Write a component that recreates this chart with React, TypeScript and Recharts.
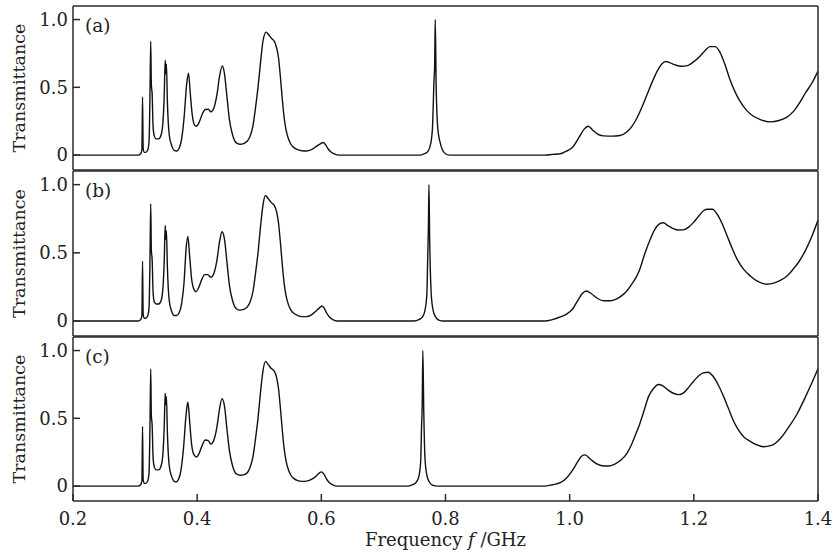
import React from "react";
import { LineChart, Line, XAxis, YAxis, Label } from "recharts";

type Pt = [number, number];

const xTicks = [0.2, 0.4, 0.6, 0.8, 1.0, 1.2, 1.4];
const yTicks = [0, 0.5, 1.0];
const yDomain: [number, number] = [-0.11, 1.1];

// panel (a) – frequency (GHz), transmittance
const lowA: Pt[] = [
  [0.2, 0], [0.305, 0], [0.309, 0.01], [0.311, 0.04], [0.312, 0.43], [0.313, 0.05], [0.315, 0.02],
  [0.317, 0.02], [0.3205, 0.04], [0.3225, 0.1], [0.324, 0.45], [0.3252, 0.84], [0.3262, 0.52],
  [0.3275, 0.45], [0.329, 0.21], [0.331, 0.14], [0.334, 0.12], [0.338, 0.12], [0.342, 0.15],
  [0.345, 0.25], [0.347, 0.45], [0.3485, 0.7], [0.3495, 0.6], [0.3505, 0.67], [0.352, 0.4],
  [0.355, 0.15], [0.359, 0.07], [0.363, 0.035], [0.367, 0.03], [0.371, 0.05], [0.375, 0.12],
  [0.379, 0.28], [0.383, 0.52], [0.386, 0.605], [0.389, 0.45], [0.392, 0.3], [0.396, 0.22],
  [0.399, 0.213], [0.403, 0.24], [0.408, 0.3], [0.413, 0.336], [0.418, 0.338], [0.422, 0.32],
  [0.427, 0.35], [0.432, 0.45], [0.436, 0.58], [0.4405, 0.657], [0.444, 0.6], [0.448, 0.43],
  [0.452, 0.26], [0.457, 0.15], [0.463, 0.09], [0.469, 0.08], [0.475, 0.085], [0.48, 0.1],
  [0.485, 0.135], [0.49, 0.22], [0.494, 0.35], [0.498, 0.5], [0.502, 0.68], [0.506, 0.84],
  [0.511, 0.907], [0.515, 0.89], [0.52, 0.86], [0.525, 0.833], [0.528, 0.79], [0.531, 0.72],
  [0.534, 0.58], [0.537, 0.42], [0.54, 0.28], [0.543, 0.19], [0.547, 0.12], [0.551, 0.08],
  [0.556, 0.055], [0.562, 0.04], [0.569, 0.032], [0.576, 0.03], [0.584, 0.04], [0.5925, 0.066],
  [0.599, 0.085], [0.603, 0.093], [0.607, 0.075], [0.611, 0.045], [0.615, 0.025], [0.62, 0.01],
  [0.627, 0],
];
const peakA: Pt[] = [
  [0.76, 0], [0.766, 0.01], [0.772, 0.03], [0.776, 0.08], [0.779, 0.2], [0.7815, 0.55],
  [0.7825, 0.65], [0.7835, 1.0], [0.785, 0.5], [0.7875, 0.2], [0.791, 0.1], [0.795, 0.04],
  [0.8, 0.01], [0.806, 0],
];
const highA: Pt[] = [
  [0.96, 0], [0.972, 0.005], [0.985, 0.01], [0.995, 0.03], [1.005, 0.06], [1.015, 0.13],
  [1.023, 0.19], [1.03, 0.213], [1.038, 0.18], [1.047, 0.15], [1.055, 0.142], [1.068, 0.14],
  [1.081, 0.145], [1.092, 0.17], [1.1, 0.21], [1.108, 0.27], [1.117, 0.36], [1.125, 0.45],
  [1.133, 0.54], [1.141, 0.62], [1.148, 0.67], [1.155, 0.69], [1.162, 0.68], [1.17, 0.665],
  [1.18, 0.655], [1.19, 0.66], [1.2, 0.69], [1.21, 0.73], [1.218, 0.77], [1.226, 0.8],
  [1.234, 0.8], [1.242, 0.76], [1.25, 0.67], [1.258, 0.56], [1.266, 0.47], [1.274, 0.4],
  [1.285, 0.33], [1.295, 0.29], [1.308, 0.26], [1.323, 0.245], [1.337, 0.255], [1.35, 0.28],
  [1.362, 0.33], [1.371, 0.39], [1.38, 0.46], [1.39, 0.53], [1.4, 0.62],
];

// panel (b)
const lowB: Pt[] = [
  [0.2, 0], [0.305, 0], [0.309, 0.01], [0.311, 0.04], [0.312, 0.44], [0.313, 0.05], [0.315, 0.02],
  [0.317, 0.02], [0.3205, 0.04], [0.3225, 0.1], [0.324, 0.45], [0.3252, 0.86], [0.3262, 0.52],
  [0.3275, 0.45], [0.329, 0.21], [0.331, 0.14], [0.334, 0.125], [0.338, 0.125], [0.342, 0.15],
  [0.345, 0.25], [0.347, 0.45], [0.3485, 0.7], [0.3495, 0.6], [0.3505, 0.66], [0.352, 0.4],
  [0.355, 0.15], [0.359, 0.07], [0.363, 0.04], [0.367, 0.04], [0.371, 0.06], [0.375, 0.13],
  [0.379, 0.29], [0.382, 0.52], [0.385, 0.62], [0.388, 0.47], [0.391, 0.31], [0.395, 0.23],
  [0.398, 0.215], [0.402, 0.24], [0.407, 0.3], [0.412, 0.34], [0.417, 0.34], [0.422, 0.32],
  [0.427, 0.35], [0.432, 0.45], [0.436, 0.58], [0.44, 0.655], [0.444, 0.6], [0.448, 0.43],
  [0.452, 0.26], [0.457, 0.15], [0.463, 0.09], [0.469, 0.08], [0.475, 0.085], [0.48, 0.1],
  [0.485, 0.135], [0.49, 0.22], [0.494, 0.35], [0.498, 0.5], [0.502, 0.69], [0.506, 0.85],
  [0.51, 0.92], [0.514, 0.9], [0.519, 0.87], [0.524, 0.85], [0.528, 0.8], [0.531, 0.72],
  [0.534, 0.58], [0.537, 0.42], [0.54, 0.28], [0.543, 0.19], [0.547, 0.12], [0.551, 0.08],
  [0.556, 0.055], [0.562, 0.04], [0.569, 0.032], [0.576, 0.032], [0.584, 0.045], [0.592, 0.075],
  [0.598, 0.1], [0.601, 0.11], [0.605, 0.09], [0.609, 0.055], [0.613, 0.03], [0.618, 0.012],
  [0.625, 0],
];
const peakB: Pt[] = [
  [0.75, 0], [0.757, 0.01], [0.763, 0.03], [0.767, 0.08], [0.77, 0.2], [0.7715, 0.5],
  [0.7725, 0.7], [0.7733, 1.0], [0.7745, 0.6], [0.777, 0.2], [0.78, 0.08], [0.784, 0.03],
  [0.79, 0.005], [0.796, 0],
];
const highB: Pt[] = [
  [0.96, 0], [0.972, 0.01], [0.985, 0.03], [0.995, 0.05], [1.005, 0.09], [1.013, 0.15],
  [1.02, 0.2], [1.027, 0.22], [1.035, 0.2], [1.045, 0.165], [1.055, 0.148], [1.065, 0.148],
  [1.075, 0.16], [1.085, 0.19], [1.092, 0.22], [1.1, 0.27], [1.107, 0.32], [1.113, 0.38],
  [1.12, 0.48], [1.129, 0.59], [1.137, 0.67], [1.144, 0.71], [1.151, 0.72], [1.158, 0.7],
  [1.166, 0.68], [1.175, 0.667], [1.183, 0.668], [1.192, 0.69], [1.2, 0.725], [1.208, 0.77],
  [1.216, 0.81], [1.222, 0.82], [1.23, 0.82], [1.238, 0.78], [1.246, 0.71], [1.254, 0.62],
  [1.262, 0.53], [1.27, 0.45], [1.28, 0.38], [1.291, 0.33], [1.303, 0.29], [1.317, 0.27],
  [1.33, 0.28], [1.34, 0.3], [1.35, 0.33], [1.36, 0.38], [1.37, 0.44], [1.38, 0.52],
  [1.39, 0.62], [1.4, 0.74],
];

// panel (c)
const lowC: Pt[] = [
  [0.2, 0], [0.305, 0], [0.309, 0.01], [0.311, 0.04], [0.312, 0.44], [0.313, 0.05], [0.315, 0.02],
  [0.317, 0.02], [0.3205, 0.04], [0.3225, 0.1], [0.324, 0.45], [0.3252, 0.865], [0.3262, 0.52],
  [0.3275, 0.45], [0.329, 0.21], [0.331, 0.14], [0.334, 0.12], [0.338, 0.12], [0.342, 0.15],
  [0.345, 0.25], [0.347, 0.45], [0.3485, 0.686], [0.3495, 0.6], [0.3505, 0.66], [0.352, 0.4],
  [0.355, 0.15], [0.359, 0.07], [0.363, 0.035], [0.366, 0.03], [0.37, 0.05], [0.374, 0.12],
  [0.378, 0.28], [0.382, 0.52], [0.385, 0.62], [0.388, 0.47], [0.391, 0.31], [0.395, 0.23],
  [0.399, 0.215], [0.403, 0.24], [0.408, 0.3], [0.413, 0.34], [0.418, 0.335], [0.422, 0.31],
  [0.427, 0.34], [0.432, 0.44], [0.436, 0.57], [0.44, 0.645], [0.444, 0.59], [0.448, 0.42],
  [0.452, 0.26], [0.457, 0.15], [0.463, 0.09], [0.47, 0.08], [0.476, 0.085], [0.481, 0.1],
  [0.485, 0.135], [0.49, 0.22], [0.494, 0.35], [0.498, 0.5], [0.502, 0.69], [0.506, 0.85],
  [0.51, 0.92], [0.514, 0.9], [0.519, 0.87], [0.524, 0.85], [0.528, 0.8], [0.531, 0.72],
  [0.534, 0.58], [0.537, 0.42], [0.54, 0.28], [0.543, 0.19], [0.547, 0.12], [0.551, 0.08],
  [0.556, 0.055], [0.562, 0.04], [0.569, 0.035], [0.576, 0.037], [0.584, 0.05], [0.592, 0.075],
  [0.597, 0.098], [0.6, 0.105], [0.604, 0.09], [0.608, 0.055], [0.612, 0.03], [0.617, 0.012],
  [0.624, 0],
];
const peakC: Pt[] = [
  [0.74, 0], [0.747, 0.01], [0.753, 0.03], [0.757, 0.07], [0.76, 0.18], [0.7615, 0.45],
  [0.7625, 0.6], [0.7635, 1.0], [0.765, 0.55], [0.767, 0.2], [0.77, 0.08], [0.774, 0.03],
  [0.78, 0.005], [0.786, 0],
];
const highC: Pt[] = [
  [0.96, 0], [0.972, 0.01], [0.985, 0.025], [0.995, 0.06], [1.005, 0.12], [1.013, 0.18],
  [1.019, 0.22], [1.025, 0.23], [1.033, 0.2], [1.043, 0.165], [1.052, 0.15], [1.062, 0.148],
  [1.072, 0.16], [1.082, 0.19], [1.092, 0.24], [1.1, 0.31], [1.107, 0.39], [1.113, 0.46],
  [1.12, 0.56], [1.127, 0.66], [1.135, 0.72], [1.143, 0.75], [1.15, 0.74], [1.158, 0.71],
  [1.167, 0.685], [1.175, 0.675], [1.184, 0.69], [1.192, 0.73], [1.199, 0.77], [1.207, 0.81],
  [1.215, 0.835], [1.223, 0.84], [1.231, 0.81], [1.24, 0.74], [1.248, 0.66], [1.256, 0.57],
  [1.263, 0.49], [1.271, 0.42], [1.281, 0.36], [1.291, 0.33], [1.301, 0.305], [1.312, 0.29],
  [1.325, 0.3], [1.339, 0.35], [1.352, 0.43], [1.366, 0.53], [1.38, 0.66], [1.39, 0.76],
  [1.4, 0.865],
];

const toRows = (...parts: Pt[][]) => parts.flat().map(([f, t]) => ({ f, t }));

const FONT = "DejaVu Serif";
const frame = { stroke: "#2a2a2a", strokeWidth: 1.5 };
const tickText = { fontSize: 18, fill: "#222", fontFamily: FONT };

type PanelProps = {
  rows: { f: number; t: number }[];
  tag: string;
  top: number;
  height: number;
  marginTop: number;
  bottomTicks?: boolean;
};

function Panel({ rows, tag, top, height, marginTop, bottomTicks }: PanelProps) {
  const plotTop = marginTop + 1;
  const plotH = height - plotTop - (bottomTicks ? 52 : 1);
  return (
    <div style={{ position: "absolute", left: 0, top, width: 836, height }}>
      <LineChart width={836} height={height} data={rows} margin={{ top: marginTop, right: 0, bottom: 0, left: 13 }}>
        <XAxis
          xAxisId="top"
          orientation="top"
          type="number"
          dataKey="f"
          domain={[0.2, 1.4]}
          ticks={xTicks}
          allowDataOverflow
          height={1}
          tick={false}
          tickLine={bottomTicks ? frame : false}
          tickSize={-7}
          axisLine={frame}
        />
        <XAxis
          type="number"
          dataKey="f"
          domain={[0.2, 1.4]}
          ticks={xTicks}
          allowDataOverflow
          height={bottomTicks ? 52 : 1}
          tick={bottomTicks ? tickText : false}
          tickLine={bottomTicks ? frame : false}
          tickSize={-7}
          tickMargin={18}
          tickFormatter={(v: number) => v.toFixed(1)}
          axisLine={frame}
        >
          {bottomTicks && (
            <Label
              content={() => (
                <text x={445.5} y={210} textAnchor="middle" fontFamily={FONT} fontSize={18} fill="#222">
                  Frequency <tspan fontStyle="italic">f</tspan> /GHz
                </text>
              )}
            />
          )}
        </XAxis>
        <YAxis
          yAxisId="l"
          type="number"
          domain={yDomain}
          ticks={yTicks}
          allowDataOverflow
          width={60}
          tick={tickText}
          tickSize={-7}
          tickMargin={12}
          tickLine={frame}
          axisLine={frame}
          tickFormatter={(v: number) => (v === 0 ? "0" : v.toFixed(1))}
        >
          <Label
            content={() => (
              <text
                x={25}
                y={plotTop + plotH / 2}
                transform={`rotate(-90 25 ${plotTop + plotH / 2})`}
                textAnchor="middle"
                fontFamily={FONT}
                fontSize={17.5}
                fill="#222"
              >
                Transmittance
              </text>
            )}
          />
          <Label
            content={() => (
              <text x={85} y={plotTop + 26} fontFamily={FONT} fontSize={18.5} fill="#222">
                {tag}
              </text>
            )}
          />
        </YAxis>
        <YAxis
          yAxisId="r"
          orientation="right"
          type="number"
          domain={yDomain}
          ticks={yTicks}
          allowDataOverflow
          width={18}
          tick={false}
          tickSize={-7}
          tickLine={frame}
          axisLine={frame}
        />
        <Line
          yAxisId="l"
          dataKey="t"
          type="monotone"
          dot={false}
          stroke="#111"
          strokeWidth={1.4}
          isAnimationActive={false}
        />
      </LineChart>
    </div>
  );
}

export default function App() {
  return (
    <div style={{ position: "absolute", left: 0, top: 0, width: 836, height: 553, background: "#fff" }}>
      <Panel rows={toRows(lowA, peakA, highA)} tag="(a)" top={0} height={171} marginTop={5} />
      <Panel rows={toRows(lowB, peakB, highB)} tag="(b)" top={170} height={167} marginTop={0} />
      <Panel rows={toRows(lowC, peakC, highC)} tag="(c)" top={336} height={217} marginTop={0} bottomTicks />
    </div>
  );
}
